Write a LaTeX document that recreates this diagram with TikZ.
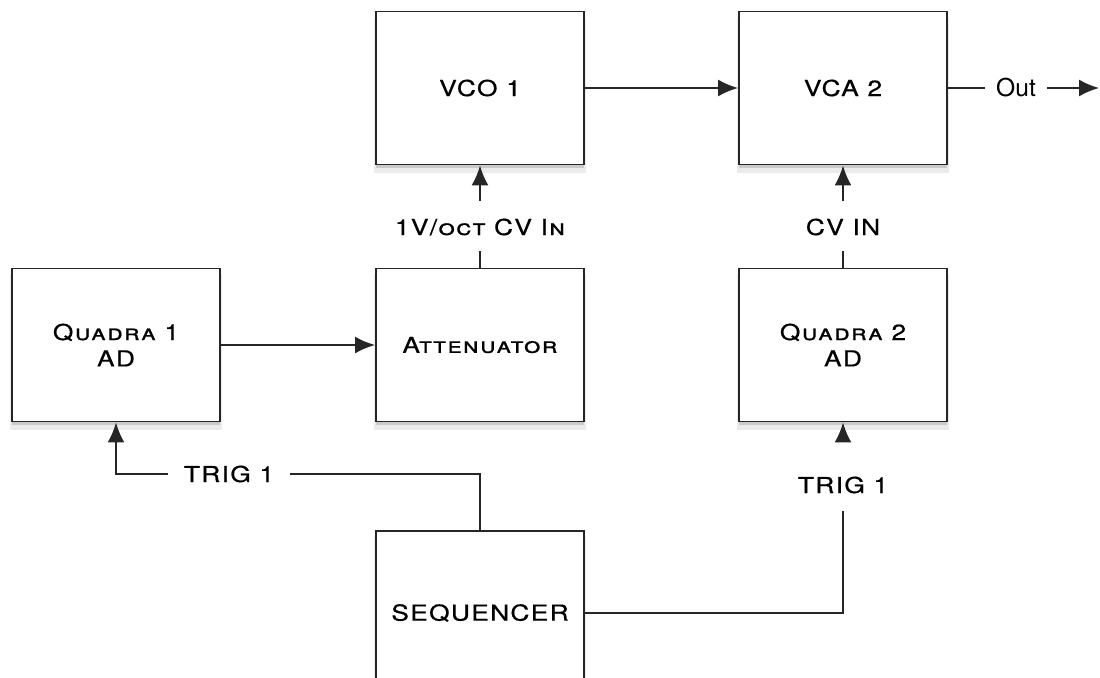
\documentclass[tikz,border=0pt]{standalone}
\usepackage{fontspec}
\setmainfont{TeX Gyre Heros}
\newfontfamily\gothfont[FakeStretch=1.2, FakeBold=0.6, LetterSpace=6]{TeX Gyre Heros}
\usetikzlibrary{arrows.meta,shadows}

\begin{document}
\begin{tikzpicture}[
    module/.style={draw=black!85, line width=1.1pt, fill=white,
        minimum width=4.16cm, minimum height=3.06cm, align=center,
        font=\gothfont\fontsize{12.5}{15}\selectfont,
        drop shadow={shadow xshift=0pt, shadow yshift=-0.13cm,
            shadow scale=1.02, fill=black, opacity=0.08},
        drop shadow={shadow xshift=0pt, shadow yshift=-0.07cm,
            fill=black, opacity=0.14}},
    jack/.style={font=\gothfont\fontsize{12.5}{15}\selectfont, anchor=base,
        text height=0.48cm, text depth=0.12cm, inner ysep=0.2cm},
    trig/.style={font=\gothfont\fontsize{12.5}{15}\selectfont,
        inner xsep=0.32cm},
    wire/.style={line width=1.1pt, draw=black!85},
    feed/.style={wire, -{Latex[length=0.4cm,width=0.34cm]}}
]

    \useasboundingbox (0,0) rectangle (22,-13.54);
    \clip (0,0) rectangle (22,-13.54);

    % modules
    \node[module] (vco)   at (9.6,-1.76)   {VCO 1};
    \node[module] (vca)   at (16.86,-1.76) {VCA 2};
    \node[module] (quadA) at (2.32,-6.9)   {\scshape Quadra 1\\AD};
    \node[module] (atten) at (9.6,-6.9)    {\scshape Attenuator};
    \node[module] (quadB) at (16.86,-6.9)  {\scshape Quadra 2\\AD};
    \node[module, minimum height=3.28cm] (seq) at (9.6,-12.26) {SEQUENCER};

    % jack labels
    \node[jack] (pitch) at (9.6,-4.7)   {\scshape 1V/oct CV In};
    \node[jack] (cvin)  at (16.86,-4.7) {CV IN};
    \node[trig] (trigA) at (4.58,-9.48) {TRIG 1};
    \node[jack, text height=0.76cm, text depth=0.06cm, inner ysep=0.3cm]
        (trigB) at (16.86,-9.86) {TRIG 1};
    \node[font=\fontsize{14}{16}\selectfont, inner xsep=0.22cm]
        (out) at (20.32,-1.76) {Out};
    \coordinate (outEnd) at (21.98,-1.76);

    % patch cables
    \draw[feed] (vco) -- (vca);
    \draw[feed] (quadA) -- (atten);
    \draw[wire] (atten) -- (pitch);
    \draw[feed] (pitch) -- (vco);
    \draw[wire] (quadB) -- (cvin);
    \draw[feed] (cvin) -- (vca);
    \draw[wire] (vca) -- (out);
    \draw[feed] (out) -- (outEnd);
    \draw[wire] (seq.north) |- (trigA);
    \draw[feed] (trigA) -| (quadA);
    \draw[wire] (seq) -| (trigB);
    \draw[feed] (trigB) -- (quadB);
\end{tikzpicture}
\end{document}
